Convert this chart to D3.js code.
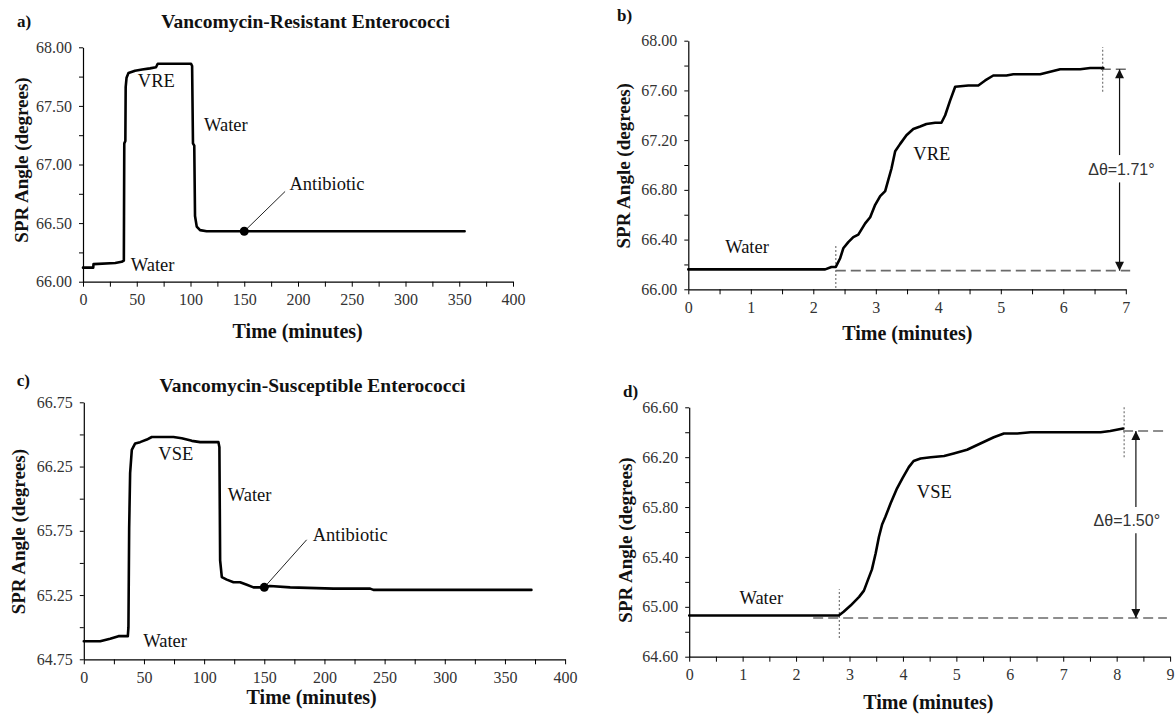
<!DOCTYPE html>
<html><head><meta charset="utf-8">
<script src="https://cdn.jsdelivr.net/npm/d3@7"></script>
<style>body{margin:0;background:#fff} svg{display:block}</style>
</head><body><svg id="chart" width="1175" height="715"></svg>
<script>
// ---------- Panel a: VRE, full run ----------
const panelATime  = [0, 9.5, 9.8, 30, 36, 38.0, 38.4, 39.4, 39.7, 40.5, 42.3, 48.4, 55, 62.3, 67.9, 69.5, 100.5, 101.5, 102.3, 103.5, 104.2, 105.8, 108.9, 115, 355];
const panelAAngle = [66.12, 66.12, 66.15, 66.16, 66.17, 66.18, 67.18, 67.20, 67.66, 67.74, 67.78, 67.80, 67.81, 67.82, 67.83, 67.86, 67.86, 67.84, 67.18, 67.16, 66.56, 66.47, 66.44, 66.43, 66.43];
const panelAXTicks = [0, 50, 100, 150, 200, 250, 300, 350, 400];
const panelAYTicks = [66.00, 66.50, 67.00, 67.50, 68.00];
const panelAAntibiotic = [150, 66.43];

// ---------- Panel b: VRE binding ----------
const panelBTime  = [0, 2.19, 2.29, 2.36, 2.43, 2.48, 2.56, 2.64, 2.72, 2.83, 2.91, 2.99, 3.07, 3.15, 3.20, 3.25, 3.31, 3.39, 3.49, 3.60, 3.71, 3.81, 3.95, 4.05, 4.11, 4.19, 4.27, 4.48, 4.64, 4.75, 4.88, 5.09, 5.20, 5.63, 5.79, 5.95, 6.27, 6.43, 6.64];
const panelBAngle = [66.16, 66.16, 66.18, 66.18, 66.25, 66.33, 66.38, 66.42, 66.44, 66.53, 66.58, 66.68, 66.75, 66.79, 66.88, 66.97, 67.11, 67.17, 67.24, 67.29, 67.31, 67.33, 67.34, 67.34, 67.40, 67.52, 67.63, 67.64, 67.64, 67.68, 67.72, 67.72, 67.73, 67.73, 67.75, 67.77, 67.77, 67.78, 67.78];
const panelBXTicks = [0, 1, 2, 3, 4, 5, 6, 7];
const panelBYTicks = [66.00, 66.40, 66.80, 67.20, 67.60, 68.00];
const panelBDelta = "\u0394\u03b8=1.71\u00b0";

// ---------- Panel c: VSE, full run ----------
const panelCTime  = [0, 13.6, 21.9, 28.8, 36.6, 37.1, 37.7, 38.5, 39.9, 42.7, 46.8, 52.4, 56.5, 62, 74.5, 81.4, 89.8, 96.7, 111.9, 112.7, 113.3, 114.7, 118.8, 124.4, 129.9, 135.5, 141, 147.9, 154.8, 171.5, 207.5, 238, 240.7, 304, 372];
const panelCAngle = [64.89, 64.89, 64.91, 64.93, 64.93, 65.00, 65.77, 66.20, 66.38, 66.43, 66.44, 66.46, 66.48, 66.48, 66.48, 66.47, 66.45, 66.44, 66.44, 66.40, 65.52, 65.39, 65.37, 65.35, 65.35, 65.33, 65.31, 65.31, 65.32, 65.31, 65.30, 65.30, 65.29, 65.29, 65.29];
const panelCXTicks = [0, 50, 100, 150, 200, 250, 300, 350, 400];
const panelCYTicks = [64.75, 65.25, 65.75, 66.25, 66.75];
const panelCAntibiotic = [150, 65.31];

// ---------- Panel d: VSE binding ----------
const panelDTime  = [0, 2.80, 2.89, 3.02, 3.18, 3.27, 3.34, 3.42, 3.49, 3.55, 3.61, 3.67, 3.77, 3.89, 3.99, 4.11, 4.20, 4.33, 4.52, 4.77, 4.95, 5.20, 5.45, 5.70, 5.89, 6.14, 6.39, 7.01, 7.70, 7.88, 8.12];
const panelDAngle = [64.93, 64.93, 64.96, 65.01, 65.08, 65.13, 65.21, 65.30, 65.43, 65.56, 65.66, 65.72, 65.83, 65.95, 66.03, 66.12, 66.17, 66.19, 66.20, 66.21, 66.23, 66.26, 66.31, 66.36, 66.39, 66.39, 66.40, 66.40, 66.40, 66.41, 66.43];
const panelDXTicks = [0, 1, 2, 3, 4, 5, 6, 7, 8, 9];
const panelDYTicks = [64.60, 65.00, 65.40, 65.80, 66.20, 66.60];
const panelDDelta = "\u0394\u03b8=1.50\u00b0";

const SERIF = "Liberation Serif, Tinos, DejaVu Serif, Noto Serif, serif";
const SANS = "Liberation Sans, Arimo, DejaVu Sans, sans-serif";
const svg = d3.select("#chart");
svg.append("rect").attr("width", 1175).attr("height", 715).attr("fill", "#fff");

const defs = svg.append("defs");
defs.append("marker").attr("id", "ah").attr("viewBox", "0 0 10 10")
  .attr("refX", 10).attr("refY", 5).attr("markerWidth", 10).attr("markerHeight", 9)
  .attr("markerUnits", "userSpaceOnUse").attr("orient", "auto")
  .append("path").attr("d", "M0,0 L10,5 L0,10 Z").attr("fill", "#111");

function panel(cfg) {
  const x = d3.scaleLinear().domain(cfg.xDomain).range(cfg.xRange);
  const y = d3.scaleLinear().domain(cfg.yDomain).range(cfg.yRange);
  const g = svg.append("g");
  const near = (arr, d) => arr.find(v => Math.abs(v - d) < 1e-6);
  const xAll = d3.range(cfg.xDomain[0], cfg.xDomain[1] + 1e-9, cfg.xMinor);
  const yAll = d3.range(0, Math.round((cfg.yDomain[1] - cfg.yDomain[0]) / cfg.yMinor) + 1).map(i => cfg.yDomain[0] + i * cfg.yMinor);
  const xAxis = d3.axisBottom(x).tickValues(xAll).tickSize(5).tickSizeOuter(0).tickPadding(7)
    .tickFormat(d => { const m = near(cfg.xTicks, d); return m === undefined ? "" : String(m); });
  const yAxis = d3.axisLeft(y).tickValues(yAll).tickSize(4).tickSizeOuter(0).tickPadding(7)
    .tickFormat(d => { const m = near(cfg.yTicks, d); return m === undefined ? "" : m.toFixed(2); });
  const gx = g.append("g").attr("transform", `translate(0,${cfg.yRange[0]})`).call(xAxis);
  const gy = g.append("g").attr("transform", `translate(${cfg.xRange[0]},0)`).call(yAxis);
  [gx, gy].forEach(a => {
    a.attr("font-family", null);
    a.select(".domain").attr("stroke", "#000").attr("stroke-width", 1.2);
    a.selectAll(".tick line").attr("stroke", "#000").attr("stroke-width", 1);
    a.selectAll(".tick text").style("font-family", SERIF).style("font-size", "16px").attr("fill", "#333");
  });

  const txt = (sel, size, weight, fam) => sel.style("font-family", fam || SERIF).style("font-size", size + "px")
    .style("font-weight", weight || "normal");

  // axis titles
  txt(g.append("text").attr("x", cfg.xTitlePos[0]).attr("y", cfg.xTitlePos[1])
    .attr("text-anchor", "middle").attr("dominant-baseline", "central").attr("fill", "#111")
    .text("Time (minutes)"), 20, "bold");
  txt(g.append("text").attr("transform", `translate(${cfg.yTitlePos[0]},${cfg.yTitlePos[1]}) rotate(-90)`)
    .attr("text-anchor", "middle").attr("dominant-baseline", "central").attr("fill", "#111")
    .text("SPR Angle (degrees)"), 19, "bold");
  txt(g.append("text").attr("x", cfg.letterPos[0]).attr("y", cfg.letterPos[1])
    .attr("dominant-baseline", "central").attr("fill", "#111").text(cfg.letter), 17, "bold");
  if (cfg.title) {
    txt(g.append("text").attr("x", cfg.titlePos[0]).attr("y", cfg.titlePos[1])
      .attr("text-anchor", "middle").attr("dominant-baseline", "central").attr("fill", "#111")
      .text(cfg.title), 19.5, "bold");
  }

  // guide lines (dashed / dotted)
  (cfg.hDash || []).forEach(h => {
    g.append("line").attr("x1", x(h[0])).attr("x2", x(h[1])).attr("y1", y(h[2])).attr("y2", y(h[2]))
      .attr("stroke", "#6a6a6a").attr("stroke-width", 1.6).attr("stroke-dasharray", "10,5");
  });
  (cfg.vDot || []).forEach(v => {
    g.append("line").attr("x1", x(v[0])).attr("x2", x(v[0])).attr("y1", y(v[1])).attr("y2", y(v[2]))
      .attr("stroke", "#777").attr("stroke-width", 1.2).attr("stroke-dasharray", "2,2");
  });

  // data line
  const pts = cfg.time.map((t, i) => [t, cfg.angle[i]]);
  g.append("path").datum(pts)
    .attr("d", d3.line().x(d => x(d[0])).y(d => y(d[1])))
    .attr("fill", "none").attr("stroke", "#000").attr("stroke-width", 2.6)
    .attr("stroke-linejoin", "round").attr("stroke-linecap", "round");

  // antibiotic marker
  if (cfg.dot) {
    g.append("line").attr("x1", x(cfg.dot[0])).attr("y1", y(cfg.dot[1]))
      .attr("x2", x(cfg.dotLineEnd[0])).attr("y2", y(cfg.dotLineEnd[1]))
      .attr("stroke", "#222").attr("stroke-width", 1);
    g.append("circle").attr("cx", x(cfg.dot[0])).attr("cy", y(cfg.dot[1])).attr("r", 4.5).attr("fill", "#000");
  }

  // delta arrow
  if (cfg.arrow) {
    const a = cfg.arrow;
    g.append("line").attr("x1", x(a.t)).attr("x2", x(a.t)).attr("y1", y(a.gapTop)).attr("y2", y(a.top))
      .attr("stroke", "#111").attr("stroke-width", 1.2).attr("marker-end", "url(#ah)");
    g.append("line").attr("x1", x(a.t)).attr("x2", x(a.t)).attr("y1", y(a.gapBottom)).attr("y2", y(a.bottom))
      .attr("stroke", "#111").attr("stroke-width", 1.2).attr("marker-end", "url(#ah)");
    txt(g.append("text").attr("x", x(a.labelPos[0])).attr("y", y(a.labelPos[1]))
      .attr("text-anchor", "middle").attr("dominant-baseline", "central")
      .attr("fill", "#333").text(a.label), 16, "normal", SANS);
  }

  // in-plot labels
  cfg.labels.forEach(l => {
    txt(g.append("text").attr("x", x(l[1])).attr("y", y(l[2])).attr("dominant-baseline", "central")
      .attr("fill", "#111").text(l[0]), 18.5);
  });
}

panel({
  xDomain: [0, 400], xRange: [83, 513], yDomain: [66, 68], yRange: [281.7, 47.3],
  xMinor: 25, yMinor: 0.25, xTicks: panelAXTicks, yTicks: panelAYTicks,
  time: panelATime, angle: panelAAngle,
  xTitlePos: [297.7, 331], yTitlePos: [21.7, 160], letter: "a)", letterPos: [17, 21.7],
  title: "Vancomycin-Resistant Enterococci", titlePos: [305.5, 21.7],
  dot: panelAAntibiotic, dotLineEnd: [188, 66.77],
  labels: [["VRE", 51, 67.71], ["Water", 112.6, 67.34], ["Antibiotic", 192, 66.83], ["Water", 44.4, 66.14]]
});

panel({
  xDomain: [0, 7], xRange: [688.3, 1125.8], yDomain: [66, 68], yRange: [289.3, 40.7],
  xMinor: 0.5, yMinor: 0.2, xTicks: panelBXTicks, yTicks: panelBYTicks,
  time: panelBTime, angle: panelBAngle,
  xTitlePos: [907.3, 333.3], yTitlePos: [623.3, 165.8], letter: "b)", letterPos: [617, 15],
  hDash: [[2.36, 7.07, 66.15], [6.6, 7.07, 67.77]],
  vDot: [[2.36, 66.01, 66.36], [6.63, 67.59, 67.95]],
  arrow: { t: 6.9, top: 67.77, bottom: 66.15, gapTop: 67.08, gapBottom: 66.86, labelPos: [6.93, 66.96], label: panelBDelta },
  labels: [["Water", 0.59, 66.34], ["VRE", 3.6, 67.09]]
});

panel({
  xDomain: [0, 400], xRange: [83.8, 565.1], yDomain: [64.75, 66.75], yRange: [659.3, 402.3],
  xMinor: 25, yMinor: 0.25, xTicks: panelCXTicks, yTicks: panelCYTicks,
  time: panelCTime, angle: panelCAngle,
  xTitlePos: [311.7, 696.7], yTitlePos: [18.3, 531.7], letter: "c)", letterPos: [16.7, 380],
  title: "Vancomycin-Susceptible Enterococci", titlePos: [312.5, 385],
  dot: panelCAntibiotic, dotLineEnd: [185.2, 65.68],
  labels: [["VSE", 61.9, 66.35], ["Water", 119.6, 66.03], ["Antibiotic", 190.2, 65.72], ["Water", 49.4, 64.89]]
});

panel({
  xDomain: [0, 9], xRange: [689.2, 1170.1], yDomain: [64.6, 66.6], yRange: [656.7, 407.3],
  xMinor: 0.5, yMinor: 0.2, xTicks: panelDXTicks, yTicks: panelDYTicks,
  time: panelDTime, angle: panelDAngle,
  xTitlePos: [928.3, 701.7], yTitlePos: [625, 540], letter: "d)", letterPos: [623, 391.7],
  hDash: [[2.32, 8.94, 64.91], [8.12, 8.87, 66.41]],
  vDot: [[2.81, 64.75, 65.14], [8.14, 66.20, 66.60]],
  arrow: { t: 8.36, top: 66.41, bottom: 64.91, gapTop: 65.80, gapBottom: 65.59, labelPos: [8.19, 65.69], label: panelDDelta },
  labels: [["Water", 0.94, 65.07], ["VSE", 4.26, 65.92]]
});
</script></body></html>
